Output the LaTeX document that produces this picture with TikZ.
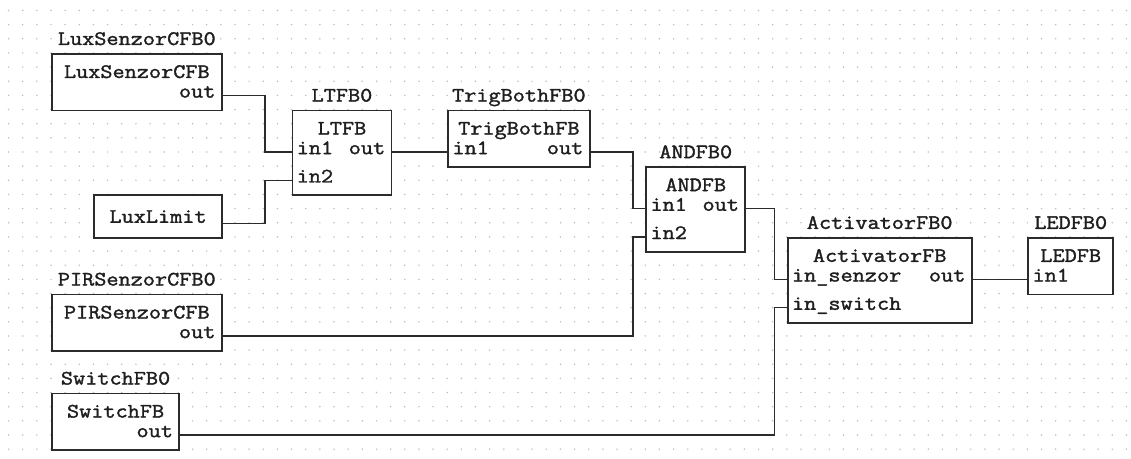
\documentclass[tikz,border=0pt]{standalone}
\usepackage{fontspec}
\newfontfamily\fbfont[FakeStretch=1.15,FakeBold=1.6]{Latin Modern Mono}
\definecolor{fbline}{HTML}{2B2B2B}
\definecolor{fbdot}{HTML}{BDBDBD}
\definecolor{fbink}{HTML}{1E1E1E}
\def\gp{14.15pt}

\tikzset{
  fbbox/.style={draw=fbline, fill=white, line width=1.8pt, inner sep=0pt, anchor=north west},
  fbtext/.style={text=fbink, font=\fbfont\fontsize{20.5}{22}\selectfont, inner sep=0pt},
  inport/.style={fbtext, anchor=mid west, xshift=5pt},
  outport/.style={fbtext, anchor=mid east, xshift=-7pt},
  wire/.style={draw=fbline, line width=1.3pt}
}

\begin{document}
\begin{tikzpicture}[x=\gp, y=-\gp]
  \useasboundingbox (-0.6042,-0.742) rectangle (79.325,31.696);
  % dotted editor grid
  \foreach \i in {0,...,79}
    \foreach \j in {0,...,31}
      \fill[fbdot] (\i,\j) circle (0.85pt);

  % function blocks: name/x/y/width/height/type
  \foreach \n/\x/\y/\w/\h/\fbname in
    {luxfb/3/3/12/4/LuxSenzorCFB, ltfb/20/7/7/6/LTFB, trigfb/31/7/10/4/TrigBothFB,
     andfb/45/11/7/6/ANDFB, actfb/55/16/13/6/ActivatorFB, ledfb/72/16/6/4/LEDFB,
     pirfb/3/20/12/4/PIRSenzorCFB, swfb/3/27/9/4/SwitchFB}
  {
    \node[fbbox, minimum width=\w*\gp, minimum height=\h*\gp] (\n) at (\x,\y) {};
    \node[fbtext, anchor=base] at ([yshift=8pt]\n.north) {\fbname0};
    \node[fbtext, anchor=base] at ([yshift=-25pt]\n.north) {\fbname};
  }
  \node[fbbox, fbtext, minimum width=9*\gp, minimum height=3*\gp] (luxlim) at (6,13) {LuxLimit};

  % ports
  \node[outport] (luxfb-out) at ([yshift=-3*\gp]luxfb.north east) {out};
  \node[inport] (ltfb-in1) at ([yshift=-3*\gp]ltfb.north west) {in1};
  \node[inport] (ltfb-in2) at ([yshift=-5*\gp]ltfb.north west) {in2};
  \node[outport] (ltfb-out) at ([yshift=-3*\gp]ltfb.north east) {out};
  \node[inport] (trigfb-in1) at ([yshift=-3*\gp]trigfb.north west) {in1};
  \node[outport] (trigfb-out) at ([yshift=-3*\gp]trigfb.north east) {out};
  \node[inport] (andfb-in1) at ([yshift=-3*\gp]andfb.north west) {in1};
  \node[inport] (andfb-in2) at ([yshift=-5*\gp]andfb.north west) {in2};
  \node[outport] (andfb-out) at ([yshift=-3*\gp]andfb.north east) {out};
  \node[inport] (actfb-sen) at ([yshift=-3*\gp]actfb.north west) {in\_senzor};
  \node[inport] (actfb-sw) at ([yshift=-5*\gp]actfb.north west) {in\_switch};
  \node[outport] (actfb-out) at ([yshift=-3*\gp]actfb.north east) {out};
  \node[inport] (ledfb-in1) at ([yshift=-3*\gp]ledfb.north west) {in1};
  \node[outport] (pirfb-out) at ([yshift=-3*\gp]pirfb.north east) {out};
  \node[outport] (swfb-out) at ([yshift=-3*\gp]swfb.north east) {out};

  % connections
  \draw[wire] (luxfb-out.mid -| luxfb.east) -- ++(3,0) |- (ltfb-in1.mid -| ltfb.west);
  \draw[wire] ([yshift=-0.5*\gp]luxlim.east) -- ++(3,0) |- (ltfb-in2.mid -| ltfb.west);
  \draw[wire] (ltfb-out.mid -| ltfb.east) -- (trigfb-in1.mid -| trigfb.west);
  \draw[wire] (trigfb-out.mid -| trigfb.east) -- ++(3,0) |- (andfb-in1.mid -| andfb.west);
  \draw[wire] (pirfb-out.mid -| pirfb.east) -- ++(29,0) |- (andfb-in2.mid -| andfb.west);
  \draw[wire] (andfb-out.mid -| andfb.east) -- ++(2,0) |- (actfb-sen.mid -| actfb.west);
  \draw[wire] (swfb-out.mid -| swfb.east) -- ++(42,0) |- (actfb-sw.mid -| actfb.west);
  \draw[wire] (actfb-out.mid -| actfb.east) -- (ledfb-in1.mid -| ledfb.west);
\end{tikzpicture}
\end{document}
